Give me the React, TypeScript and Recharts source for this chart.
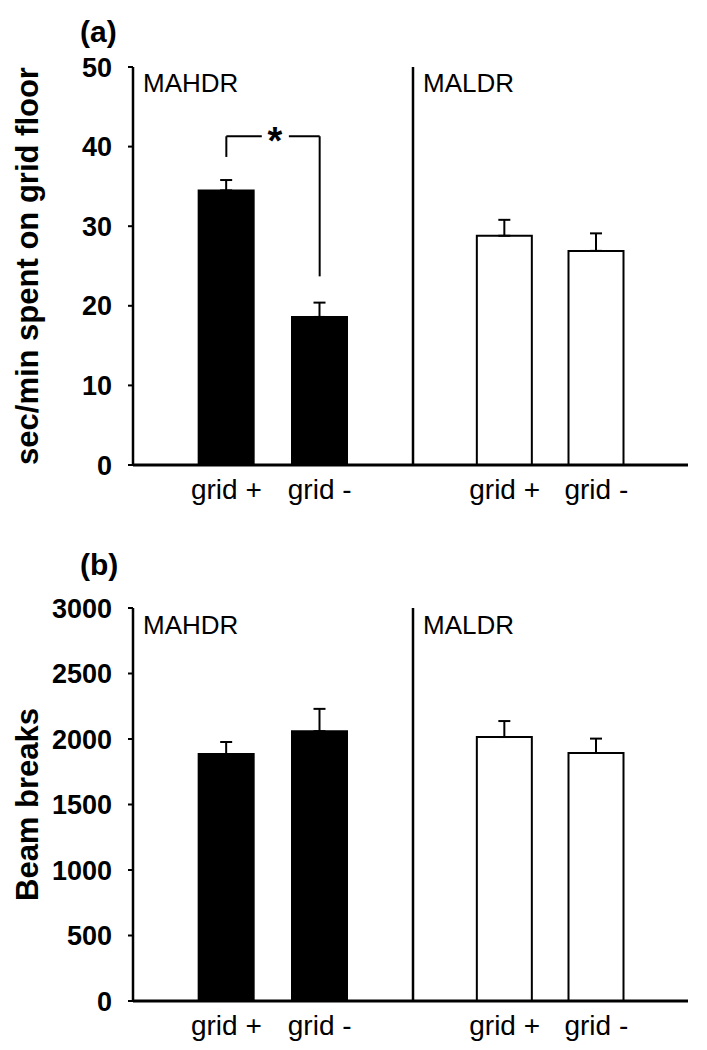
import React from 'react';
import {
  BarChart,
  Bar,
  XAxis,
  YAxis,
  ErrorBar,
  ReferenceLine,
  ReferenceDot,
} from 'recharts';

const FONT = 'Arial, "Liberation Sans", sans-serif';

// categories and their slot on the x axis (axis spans 0..3 per panel)
const categories = ['grid +', 'grid -'];
const catPos = [1, 2];

// (a) sec/min spent on grid floor
const timeMAHDR = [34.5, 18.6];
const timeMAHDRErr = [1.3, 1.8];
const timeMALDR = [28.8, 26.9];
const timeMALDRErr = [2.0, 2.2];
const timeTicks = [0, 10, 20, 30, 40, 50];

// (b) beam breaks
const beamMAHDR = [1885, 2060];
const beamMAHDRErr = [92, 170];
const beamMALDR = [2015, 1893];
const beamMALDRErr = [122, 110];
const beamTicks = [0, 500, 1000, 1500, 2000, 2500, 3000];

// significance bracket between grid + and grid - in MAHDR (a)
const sigLegLeft = [38.7, 41.3];
const sigLegRight = [23.7, 41.3];
const sigGap = [1.38, 1.67];
const sigStarX = 1.52;

const toRows = (vals: number[], errs: number[]) =>
  vals.map((v, i) => ({ pos: catPos[i], name: categories[i], value: v, err: [0, errs[i]] }));

const YTitle = (props: any) => {
  const vb = props.viewBox || {};
  const cx = 27;
  const cy = (vb.y ?? 0) + (vb.height ?? 0) / 2;
  return (
    <text
      x={cx}
      y={cy}
      transform={`rotate(-90 ${cx} ${cy})`}
      textAnchor="middle"
      dominantBaseline="central"
      fontSize={31}
      fontWeight="bold"
      fontFamily={FONT}
      fill="#000"
    >
      {props.text}
    </text>
  );
};

const tickX = { fontSize: 28, fill: '#000', fontFamily: FONT };
const tickY = { fontSize: 27, fontWeight: 'bold', fill: '#000', fontFamily: FONT };

interface PanelProps {
  rows: any[];
  domain: [number, number];
  ticks: number[];
  filled: boolean;
  first: boolean;
  width: number;
  height: number;
  margin: any;
  title?: string;
  children?: React.ReactNode;
}

const Panel = ({ rows, domain, ticks, filled, first, width, height, margin, title, children }: PanelProps) => (
  <BarChart width={width} height={height} data={rows} margin={margin}>
    <XAxis
      type="number"
      dataKey="pos"
      domain={[0, 3]}
      ticks={catPos}
      tickFormatter={(v: number) => categories[catPos.indexOf(v)] ?? ''}
      tickLine={false}
      tickSize={6}
      tickMargin={8}
      axisLine={{ stroke: '#000', strokeWidth: 3 }}
      tick={tickX}
      height={40}
      interval={0}
      allowDataOverflow
    />
    <YAxis
      type="number"
      domain={domain}
      ticks={ticks}
      interval={0}
      width={first ? 133 : 13}
      tick={first ? tickY : false}
      tickSize={5}
      tickMargin={16}
      tickLine={{ stroke: '#000', strokeWidth: 2 }}
      axisLine={{ stroke: '#000', strokeWidth: 2.5 }}
      label={first && title ? <YTitle text={title} /> : undefined}
      allowDataOverflow
    />
    <Bar
      dataKey="value"
      barSize={55}
      fill={filled ? '#000' : '#fff'}
      stroke="#000"
      strokeWidth={2}
      isAnimationActive={false}
    >
      <ErrorBar dataKey="err" width={6} stroke="#000" strokeWidth={2} direction="y" />
    </Bar>
    {children}
  </BarChart>
);

const boxLabel = (text: string, left: number, top: number, bold = false, size = 26) => (
  <div
    style={{
      position: 'absolute',
      left,
      top,
      fontSize: size,
      lineHeight: 1,
      fontWeight: bold ? 'bold' : 'normal',
      fontFamily: FONT,
      color: '#000',
      whiteSpace: 'nowrap',
    }}
  >
    {text}
  </div>
);

export default function App() {
  const marginTopA = { top: 67, right: 0, bottom: 15, left: 0 };
  const marginTopB = { top: 67, right: 19, bottom: 15, left: 0 };
  const marginBotA = { top: 88, right: 0, bottom: 9, left: 0 };
  const marginBotB = { top: 88, right: 19, bottom: 9, left: 0 };

  return (
    <div style={{ position: 'absolute', left: 0, top: 0, width: 707, height: 1050, background: '#fff' }}>
      {/* (a) */}
      <div style={{ position: 'absolute', left: 0, top: 0 }}>
        <Panel
          rows={toRows(timeMAHDR, timeMAHDRErr)}
          domain={[0, 50]}
          ticks={timeTicks}
          filled
          first
          width={413}
          height={520}
          margin={marginTopA}
          title="sec/min spent on grid floor"
        >
          <ReferenceLine
            segment={[{ x: catPos[0], y: sigLegLeft[0] }, { x: catPos[0], y: sigLegLeft[1] }]}
            stroke="#000"
            strokeWidth={2}
          />
          <ReferenceLine
            segment={[{ x: catPos[0], y: sigLegLeft[1] }, { x: sigGap[0], y: sigLegLeft[1] }]}
            stroke="#000"
            strokeWidth={2}
          />
          <ReferenceLine
            segment={[{ x: sigGap[1], y: sigLegRight[1] }, { x: catPos[1], y: sigLegRight[1] }]}
            stroke="#000"
            strokeWidth={2}
          />
          <ReferenceLine
            segment={[{ x: catPos[1], y: sigLegRight[0] }, { x: catPos[1], y: sigLegRight[1] }]}
            stroke="#000"
            strokeWidth={2}
          />
          <ReferenceDot
            x={sigStarX}
            y={sigLegRight[1]}
            r={0}
            label={{ value: '*', position: 'center', fontSize: 38, fontWeight: 'bold', fill: '#000', fontFamily: FONT, dy: 4 }}
          />
        </Panel>
      </div>
      <div style={{ position: 'absolute', left: 400, top: 0 }}>
        <Panel
          rows={toRows(timeMALDR, timeMALDRErr)}
          domain={[0, 50]}
          ticks={timeTicks}
          filled={false}
          first={false}
          width={307}
          height={520}
          margin={marginTopB}
        />
      </div>

      {/* (b) */}
      <div style={{ position: 'absolute', left: 0, top: 520 }}>
        <Panel
          rows={toRows(beamMAHDR, beamMAHDRErr)}
          domain={[0, 3000]}
          ticks={beamTicks}
          filled
          first
          width={413}
          height={530}
          margin={marginBotA}
          title="Beam breaks"
        />
      </div>
      <div style={{ position: 'absolute', left: 400, top: 520 }}>
        <Panel
          rows={toRows(beamMALDR, beamMALDRErr)}
          domain={[0, 3000]}
          ticks={beamTicks}
          filled={false}
          first={false}
          width={307}
          height={530}
          margin={marginBotB}
        />
      </div>

      {boxLabel('(a)', 80, 17, true, 30)}
      {boxLabel('MAHDR', 143, 70)}
      {boxLabel('MALDR', 423, 70)}
      {boxLabel('(b)', 80, 550, true, 30)}
      {boxLabel('MAHDR', 143, 612)}
      {boxLabel('MALDR', 423, 612)}
    </div>
  );
}
